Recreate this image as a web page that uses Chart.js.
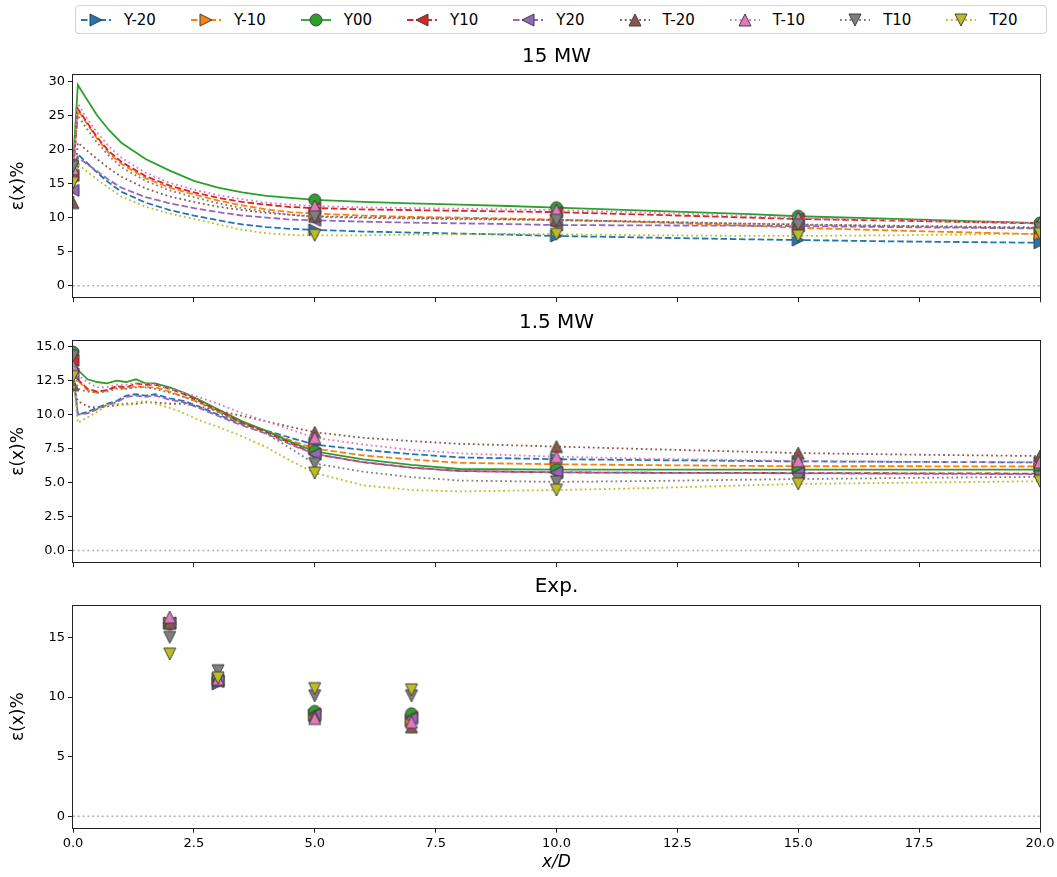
<!DOCTYPE html>
<html><head><meta charset="utf-8">
<script src="https://cdn.jsdelivr.net/npm/chart.js@4.4.0/dist/chart.umd.min.js"></script>
<style>
html,body{margin:0;padding:0;background:#fff;}
body{width:1057px;height:877px;position:relative;overflow:hidden;font-family:'DejaVu Sans',sans-serif;}
.pane{position:absolute;left:0;width:1057px;}
#legend{position:absolute;left:75px;top:5px;width:972px;height:29px;border:1px solid #d3d3d3;border-radius:4px;display:flex;align-items:center;box-sizing:border-box;padding-left:5px;gap:35px;font-size:15px;color:#000;background:#fff;}
.item{display:flex;align-items:center;white-space:nowrap;}
.item svg{margin-right:13px;display:block;}
</style></head>
<body>
<div id="legend"></div>
<div class="pane" style="top:40px;height:265px"><canvas id="c1"></canvas></div>
<div class="pane" style="top:305px;height:265px"><canvas id="c2"></canvas></div>
<div class="pane" style="top:570px;height:307px"><canvas id="c3"></canvas></div>
<script>
// ---------------- data ----------------
const SERIES = ['Y-20','Y-10','Y00','Y10','Y20','T-20','T-10','T10','T20'];
const PANEL_TITLES = ['15 MW','1.5 MW','Exp.'];
const MARKER_X = [0,5,10,15,20];
const X_TICKS = [0,2.5,5,7.5,10,12.5,15,17.5,20];
const X_TICK_LABELS = ['0.0','2.5','5.0','7.5','10.0','12.5','15.0','17.5','20.0'];
const Y_TICKS_15MW = [0,5,10,15,20,25,30];
const Y_TICK_LABELS_15MW = ['0','5','10','15','20','25','30'];
const Y_TICKS_1P5MW = [0,2.5,5,7.5,10,12.5,15];
const Y_TICK_LABELS_1P5MW = ['0.0','2.5','5.0','7.5','10.0','12.5','15.0'];
const Y_TICKS_EXP = [0,5,10,15];
const Y_TICK_LABELS_EXP = ['0','5','10','15'];

// 15 MW
const X_15MW = [0,0.1,0.25,0.5,0.75,1,1.5,2,2.5,3,3.5,4,4.5,5,6,7,8,9,10,12,14,15,17,20];
const MW15_Ym20 = [15.5,19.3,18.3,16.6,15.1,13.8,12.2,11.1,10.3,9.6,9.0,8.6,8.35,8.2,7.95,7.8,7.65,7.5,7.3,7.05,6.8,6.7,6.5,6.3];
const MW15_Ym10 = [16.5,25.8,24.2,21.6,19.4,17.9,15.8,14.4,13.4,12.5,11.8,11.2,10.8,10.6,10.3,10.1,10.0,9.85,9.7,9.3,8.8,8.5,8.1,7.55];
const MW15_Y00  = [17.8,29.5,27.8,25.0,22.8,21.0,18.6,16.9,15.4,14.4,13.7,13.2,12.9,12.6,12.3,12.1,11.9,11.7,11.45,11.0,10.5,10.2,9.8,9.2];
const MW15_Y10  = [16.2,26.0,24.4,21.8,19.7,18.2,16.1,14.7,13.7,12.9,12.3,11.9,11.55,11.4,11.2,11.1,11.0,10.9,10.8,10.4,10.0,9.8,9.55,9.15];
const MW15_Y20  = [14.0,18.8,18.1,16.8,15.5,14.4,13.0,12.1,11.4,10.8,10.3,10.0,9.7,9.6,9.4,9.25,9.15,9.05,8.9,8.85,8.8,8.75,8.6,8.4];
const MW15_Tm20 = [12.2,21.0,20.1,18.6,17.2,16.0,14.3,13.1,12.3,11.6,11.1,10.7,10.4,10.2,10.05,9.95,9.85,9.75,9.65,9.4,9.1,9.0,8.8,8.55];
const MW15_Tm10 = [17.2,26.8,25.0,22.5,20.4,18.8,16.6,15.1,14.1,13.3,12.7,12.2,11.9,11.7,11.5,11.4,11.3,11.2,11.1,10.7,10.2,9.95,9.6,9.2];
const MW15_T10  = [17.5,25.0,23.4,21.0,19.0,17.4,15.4,14.0,13.0,12.1,11.4,10.9,10.4,10.1,9.95,9.85,9.75,9.7,9.6,9.35,9.1,8.95,8.75,8.45];
const MW15_T20  = [15.1,17.8,17.0,15.6,14.3,13.1,11.6,10.6,9.8,9.0,8.2,7.7,7.45,7.4,7.4,7.5,7.55,7.6,7.55,7.4,7.3,7.3,7.4,7.65];

// 1.5 MW
const X_1P5MW = [0,0.1,0.3,0.5,0.7,0.9,1.1,1.3,1.5,1.7,2.0,2.3,2.6,3.0,3.5,4.0,4.5,5,6,7,8,10,12,15,17.5,20];
const MW1P5_Ym20 = [13.2,10.0,10.2,10.5,10.8,11.0,11.4,11.5,11.4,11.5,11.2,11.0,10.6,10.0,9.3,8.8,8.3,7.8,7.4,7.1,6.85,6.72,6.65,6.56,6.52,6.48];
const MW1P5_Ym10 = [13.8,12.5,11.8,11.6,11.8,12.0,11.9,12.1,12.0,12.0,11.7,11.3,10.9,10.2,9.4,8.8,8.1,7.5,7.0,6.7,6.45,6.35,6.28,6.2,6.2,6.18];
const MW1P5_Y00  = [14.6,13.3,12.6,12.4,12.3,12.5,12.4,12.6,12.3,12.3,12.0,11.6,11.1,10.4,9.5,8.8,8.0,7.3,6.7,6.3,6.0,5.95,5.95,5.95,5.95,5.95];
const MW1P5_Y10  = [14.0,12.6,11.9,11.7,11.8,12.1,12.0,12.3,12.2,12.2,11.9,11.5,11.0,10.3,9.4,8.7,7.9,7.1,6.5,6.1,5.85,5.75,5.72,5.7,5.68,5.66];
const MW1P5_Y20  = [13.0,10.0,10.1,10.4,10.7,10.9,11.3,11.4,11.3,11.4,11.1,10.9,10.5,9.9,9.2,8.6,7.8,7.1,6.5,6.1,5.85,5.75,5.72,5.68,5.65,5.62];
const MW1P5_Tm20 = [12.2,11.0,10.6,10.5,10.6,10.7,10.8,10.8,10.9,10.9,10.8,10.8,10.6,10.3,9.9,9.5,9.1,8.7,8.3,8.05,7.85,7.65,7.45,7.17,7.05,6.95];
const MW1P5_Tm10 = [13.6,12.9,12.4,12.0,12.0,12.2,12.2,12.3,12.3,12.2,11.9,11.6,11.3,10.8,10.1,9.5,8.9,8.3,7.8,7.4,7.15,6.9,6.75,6.6,6.52,6.5];
const MW1P5_T10  = [14.3,11.9,11.7,11.6,11.7,11.9,11.9,12.0,12.0,11.9,11.6,11.3,10.9,10.2,9.3,8.6,7.5,6.4,5.8,5.4,5.15,5.05,5.12,5.26,5.35,5.42];
const MW1P5_T20  = [12.8,9.4,9.8,10.2,10.7,10.8,10.7,10.9,11.0,10.8,10.5,10.1,9.6,9.1,8.4,7.6,6.6,5.7,4.8,4.45,4.35,4.45,4.6,4.9,5.0,5.1];

// Exp.
const X_EXP = [2,3,5,7];
const EXP_Ym20 = [16.2,11.1,8.5,8.0];
const EXP_Ym10 = [16.2,11.5,8.5,8.1];
const EXP_Y00  = [16.1,11.6,8.8,8.6];
const EXP_Y10  = [16.2,11.4,8.6,8.3];
const EXP_Y20  = [16.2,11.3,8.5,8.2];
const EXP_Tm20 = [16.2,11.4,8.4,7.5];
const EXP_Tm10 = [16.7,11.5,8.2,7.9];
const EXP_T10  = [15.0,12.2,10.1,10.1];
const EXP_T20  = [13.6,11.6,10.7,10.6];

// ---------------- styles ----------------
const FONT = "'DejaVu Sans', sans-serif";
const COLORS = ['#1f77b4','#ff7f0e','#2ca02c','#d62728','#9467bd','#8c564b','#e377c2','#7f7f7f','#bcbd22'];
const MARKERS = ['>','>','o','<','<','^','^','v','v'];
const DASH = { dashed:[6.5,2.8], solid:[], dotted:[1.8,3] };
const LINESTYLES = ['dashed','dashed','solid','dashed','dashed','dotted','dotted','dotted','dotted'];
const EDGE = '#404040';
const LW = 1.8;

function markerPath(g, shape, cx, cy, h) {
  g.beginPath();
  if (shape === 'o') g.arc(cx, cy, h, 0, Math.PI*2);
  else if (shape === '^') { g.moveTo(cx, cy-h); g.lineTo(cx+h, cy+h); g.lineTo(cx-h, cy+h); }
  else if (shape === 'v') { g.moveTo(cx, cy+h); g.lineTo(cx+h, cy-h); g.lineTo(cx-h, cy-h); }
  else if (shape === '>') { g.moveTo(cx+h, cy); g.lineTo(cx-h, cy-h); g.lineTo(cx-h, cy+h); }
  else if (shape === '<') { g.moveTo(cx-h, cy); g.lineTo(cx+h, cy-h); g.lineTo(cx+h, cy+h); }
  g.closePath();
}
function makeMarker(shape, color) {
  const c = document.createElement('canvas');
  c.width = 16; c.height = 16;
  const g = c.getContext('2d');
  markerPath(g, shape, 8, 8, 6);
  g.fillStyle = color; g.fill();
  g.lineWidth = 1; g.strokeStyle = EDGE; g.stroke();
  return c;
}
const MARKER_IMGS = SERIES.map((s, i) => makeMarker(MARKERS[i], COLORS[i]));

// ---------------- legend (HTML) ----------------
(function buildLegend() {
  const L = document.getElementById('legend');
  SERIES.forEach((name, i) => {
    const it = document.createElement('div');
    it.className = 'item';
    const ns = 'http://www.w3.org/2000/svg';
    const svg = document.createElementNS(ns, 'svg');
    svg.setAttribute('width', '30'); svg.setAttribute('height', '16');
    const ln = document.createElementNS(ns, 'line');
    ln.setAttribute('x1','0'); ln.setAttribute('y1','8'); ln.setAttribute('x2','30'); ln.setAttribute('y2','8');
    ln.setAttribute('stroke', COLORS[i]); ln.setAttribute('stroke-width', String(LW));
    const d = DASH[LINESTYLES[i]];
    if (d.length) ln.setAttribute('stroke-dasharray', d.join(' '));
    svg.appendChild(ln);
    const g = { p: '', beginPath(){}, moveTo(x,y){this.p += 'M'+x+' '+y;}, lineTo(x,y){this.p += 'L'+x+' '+y;}, closePath(){this.p += 'Z';}, arc(){ this.circle = true; } };
    markerPath(g, MARKERS[i], 15, 8, 6);
    let mk;
    if (g.circle) { mk = document.createElementNS(ns, 'circle'); mk.setAttribute('cx','15'); mk.setAttribute('cy','8'); mk.setAttribute('r','6'); }
    else { mk = document.createElementNS(ns, 'path'); mk.setAttribute('d', g.p); }
    mk.setAttribute('fill', COLORS[i]); mk.setAttribute('stroke', EDGE); mk.setAttribute('stroke-width','1');
    svg.appendChild(mk);
    it.appendChild(svg);
    const sp = document.createElement('span'); sp.textContent = name;
    it.appendChild(sp);
    L.appendChild(it);
  });
})();

// ---------------- charts ----------------
const framePlugin = {
  id: 'frame',
  afterLayout(chart) {
    const t = chart.titleBlock, a = chart.chartArea;
    if (t) { t.left = a.left; t.right = a.right; t.width = a.right - a.left; }
  },
  afterDatasetsDraw(chart) {
    const { ctx, chartArea: a } = chart;
    ctx.save();
    ctx.strokeStyle = '#222'; ctx.lineWidth = 1;
    const l = Math.round(a.left) - 0.5, t = Math.round(a.top) - 0.5;
    const r = Math.round(a.right) + 0.5, b = Math.round(a.bottom) + 0.5;
    ctx.strokeRect(l, t, r - l, b - t);
    ctx.restore();
  }
};

function toPoints(xs, ys) { return xs.map((x, i) => ({ x: x, y: ys[i] })); }

function makeDatasets(xs, seriesList, isCurve) {
  const ds = seriesList.map((ys, i) => ({
    label: SERIES[i],
    data: toPoints(xs, ys),
    showLine: isCurve,
    borderColor: COLORS[i],
    backgroundColor: COLORS[i],
    borderWidth: LW,
    borderDash: DASH[LINESTYLES[i]],
    pointStyle: MARKER_IMGS[i],
    pointRadius: isCurve ? (ctx => (ctx.raw && MARKER_X.includes(ctx.raw.x)) ? 6 : 0) : 6,
    tension: 0,
    clip: 0,
    order: SERIES.length - i
  }));
  ds.push({
    label: '_zero',
    data: [{ x: 0, y: 0 }, { x: 20, y: 0 }],
    showLine: true,
    borderColor: 'rgba(128,128,128,0.65)',
    borderWidth: 1.5,
    borderDash: DASH.dotted,
    pointRadius: 0,
    clip: 0,
    order: 100
  });
  return ds;
}

function makeChart(id, title, titlePad, xs, seriesList, isCurve, yMin, yMax, yTicks, yLabels, showX, xHeight) {
  return new Chart(document.getElementById(id), {
    type: 'scatter',
    data: { datasets: makeDatasets(xs, seriesList, isCurve) },
    plugins: [framePlugin],
    options: {
      responsive: true,
      maintainAspectRatio: false,
      animation: false,
      events: [],
      layout: { padding: { left: 0, right: 17, top: 0, bottom: 0 } },
      plugins: {
        legend: { display: false },
        tooltip: { enabled: false },
        title: {
          display: true, text: title, color: '#000',
          font: { family: FONT, size: 20, weight: 'normal' },
          padding: titlePad
        }
      },
      scales: {
        x: {
          type: 'linear', min: 0, max: 20,
          afterBuildTicks: s => { s.ticks = X_TICKS.map(v => ({ value: v })); },
          afterFit: s => { s.height = xHeight; s.paddingLeft = 0; s.paddingRight = 0; },
          ticks: {
            display: showX, autoSkip: false, maxRotation: 0, padding: 3, color: '#000',
            font: { family: FONT, size: 13 },
            callback: v => X_TICK_LABELS[X_TICKS.indexOf(v)]
          },
          grid: { display: true, drawOnChartArea: false, drawTicks: true, tickLength: 5, color: '#222', lineWidth: 1 },
          border: { display: false },
          title: {
            display: showX, text: 'x/D', color: '#000',
            font: { family: FONT, size: 17, style: 'italic' },
            padding: { top: 2, bottom: 4 }
          }
        },
        y: {
          type: 'linear', min: yMin, max: yMax,
          afterBuildTicks: s => { s.ticks = yTicks.map(v => ({ value: v })); },
          afterFit: s => { s.width = 73; s.paddingTop = 0; s.paddingBottom = 0; },
          ticks: {
            autoSkip: false, padding: 3, color: '#000',
            font: { family: FONT, size: 13 },
            callback: v => yLabels[yTicks.indexOf(v)]
          },
          grid: { display: true, drawOnChartArea: false, drawTicks: true, tickLength: 5, color: '#222', lineWidth: 1 },
          border: { display: false },
          title: {
            display: true, text: 'ε(x)%', color: '#000',
            font: { family: FONT, size: 17 },
            padding: { top: 8, bottom: 0 }
          }
        }
      }
    }
  });
}

makeChart('c1', PANEL_TITLES[0], { top: 5, bottom: 5.7 }, X_15MW,
  [MW15_Ym20, MW15_Ym10, MW15_Y00, MW15_Y10, MW15_Y20, MW15_Tm20, MW15_Tm10, MW15_T10, MW15_T20],
  true, -1.7, 31.0, Y_TICKS_15MW, Y_TICK_LABELS_15MW, false, 7.3);

makeChart('c2', PANEL_TITLES[1], { top: 6, bottom: 5.7 }, X_1P5MW,
  [MW1P5_Ym20, MW1P5_Ym10, MW1P5_Y00, MW1P5_Y10, MW1P5_Y20, MW1P5_Tm20, MW1P5_Tm10, MW1P5_T10, MW1P5_T20],
  true, -0.86, 15.44, Y_TICKS_1P5MW, Y_TICK_LABELS_1P5MW, false, 7.3);

makeChart('c3', PANEL_TITLES[2], { top: 5, bottom: 6.7 }, X_EXP,
  [EXP_Ym20, EXP_Ym10, EXP_Y00, EXP_Y10, EXP_Y20, EXP_Tm20, EXP_Tm10, EXP_T10, EXP_T20],
  false, -0.95, 17.65, Y_TICKS_EXP, Y_TICK_LABELS_EXP, true, 49.3);
</script>
</body></html>
